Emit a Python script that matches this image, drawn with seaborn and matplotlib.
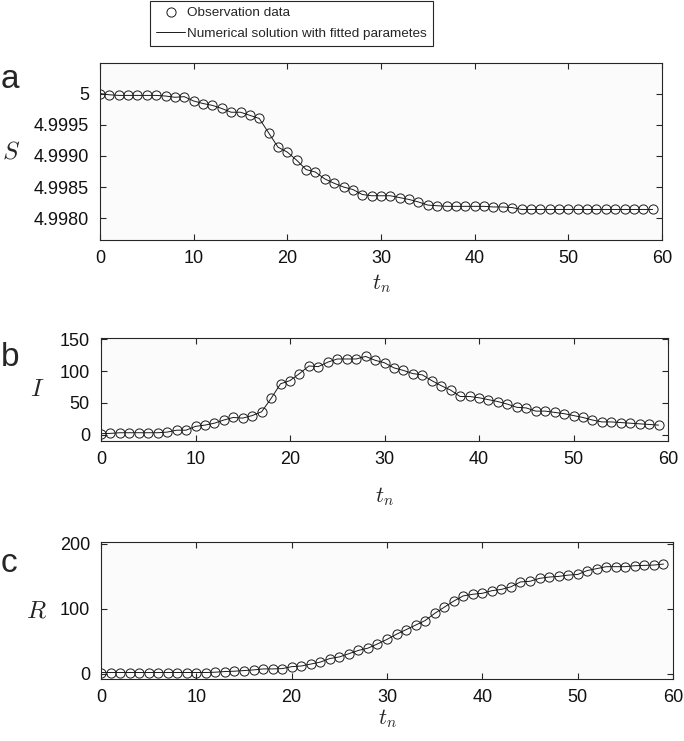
import numpy as np
import pandas as pd
import matplotlib
matplotlib.use("Agg")
import matplotlib.pyplot as plt
import seaborn as sns
from matplotlib.lines import Line2D
from matplotlib.ticker import FixedLocator, FixedFormatter

# ---------------- data ----------------
t = list(range(60))

S = [5.00000, 4.99998, 4.99997, 4.99997, 4.99997, 4.99997, 4.99997, 4.99996, 4.99994, 4.99995,
     4.99988, 4.99984, 4.99981, 4.99976, 4.99970, 4.99970, 4.99965, 4.99960, 4.99937, 4.99914,
     4.99906, 4.99893, 4.99878, 4.99874, 4.99863, 4.99856, 4.99850, 4.99846, 4.99838, 4.99836,
     4.99836, 4.99836, 4.99833, 4.99830, 4.99826, 4.99821, 4.99820, 4.99819, 4.99819, 4.99819,
     4.99819, 4.99819, 4.99818, 4.99818, 4.99817, 4.99814, 4.99814, 4.99814, 4.99814, 4.99814,
     4.99814, 4.99814, 4.99814, 4.99814, 4.99814, 4.99814, 4.99814, 4.99814, 4.99814, 4.99814]

I = [1.5, 2, 3, 3, 3, 3, 3, 4, 7, 7,
     13, 15, 18, 23, 27, 26, 30, 36, 57, 80,
     85, 96, 108, 107, 114, 119, 119, 119, 123, 117,
     113, 105, 101, 96, 94, 85, 77, 70, 60, 60,
     58, 55, 52, 48, 43, 42, 37, 37, 35, 33,
     30, 27, 23, 20, 20, 19, 18, 17, 16, 15]

R = [2, 2, 2, 2, 2, 2, 2, 2, 2, 2,
     2, 2, 2.5, 3.5, 4, 5, 6, 7.5, 7.5, 8,
     11, 12, 15, 18, 23.5, 26, 31, 36, 39.5, 46,
     53, 61, 68, 75, 82, 93, 102.5, 112, 120, 122.5,
     124, 128, 130, 134, 141.5, 142.5, 147, 149, 150, 152,
     153, 159, 162, 165, 165, 165, 166.5, 167, 167.5, 169]

x_ticks = [0, 10, 20, 30, 40, 50, 60]
S_ticks = [4.9980, 4.9985, 4.9990, 4.9995, 5.0]
S_ticklabels = ["4.9980", "4.9985", "4.9990", "4.9995", "5"]
I_ticks = [0, 50, 100, 150]
R_ticks = [0, 100, 200]

legend_labels = ["Observation data", "Numerical solution with fitted parametes"]

# ---------------- style ----------------
sns.set_theme(style="ticks")
plt.rcParams["font.family"] = ["Liberation Sans", "DejaVu Sans"]
plt.rcParams["mathtext.fontset"] = "cm"

W, H = 684, 741
fig = plt.figure(figsize=(W / 100, H / 100), dpi=100)


def box(l, r, top, bot):
    return [l / W, 1 - bot / H, (r - l) / W, (bot - top) / H]


SPINE = "#262626"
MS = 6.6
MEW = 0.7
LW = 0.7


def draw(rect, yvals, ylim, yticks, yticklabels, ylabel, ylab_x, xlab_y, letter, letter_y):
    ax = fig.add_axes(rect)
    df = pd.DataFrame({"t": t, "v": yvals})
    sns.lineplot(data=df, x="t", y="v", ax=ax, color="k", lw=LW)
    sns.lineplot(data=df, x="t", y="v", ax=ax, color="k", marker="o", linestyle="none",
                 markersize=MS, markerfacecolor="none", markeredgecolor="k",
                 markeredgewidth=MEW)
    ax.set_facecolor("#fbfbfb")
    ax.set_xlim(0, 60)
    ax.set_ylim(*ylim)
    ax.xaxis.set_major_locator(FixedLocator(x_ticks))
    ax.yaxis.set_major_locator(FixedLocator(yticks))
    ax.yaxis.set_major_formatter(FixedFormatter(yticklabels))
    for sp in ax.spines.values():
        sp.set_color(SPINE)
        sp.set_linewidth(0.8)
    ax.tick_params(direction="in", length=4, width=0.8, top=True, right=True,
                   labelsize=13, color=SPINE, labelcolor="#111111")
    ax.tick_params(axis="x", pad=7)
    ax.tick_params(axis="y", pad=8)
    ax.set_ylabel(ylabel, rotation=0, fontsize=18, ha="center", va="center")
    ax.yaxis.set_label_coords(ylab_x, 0.5)
    ax.set_xlabel("$t_n$", fontsize=16)
    ax.xaxis.set_label_coords(0.5, xlab_y)
    fig.text(1 / W, 1 - letter_y / H, letter, fontsize=24, ha="left", va="baseline")
    return ax


draw(box(100, 662, 63, 240), S, (4.99765, 5.00049), S_ticks, S_ticklabels,
     "$S$", (11 - 100) / 562, (240 - 272) / 177, "a", 88)
draw(box(101, 668, 338, 441), I, (-10, 152), I_ticks, [str(v) for v in I_ticks],
     "$I$", (37 - 101) / 567, (441 - 485) / 103, "b", 366)
draw(box(101, 673, 542, 679), R, (-8, 203), R_ticks, [str(v) for v in R_ticks],
     "$R$", (36 - 101) / 572, (679 - 707) / 137, "c", 572)

handles = [Line2D([], [], marker="o", linestyle="none", markerfacecolor="none",
                  markeredgecolor="k", markersize=MS, markeredgewidth=MEW),
           Line2D([], [], color="k", lw=LW)]
leg = fig.legend(handles, legend_labels, loc="upper center",
                 bbox_to_anchor=(291.5 / W, 1 - 1 / H),
                 prop={"family": "Liberation Sans", "size": 9.7}, frameon=True,
                 fancybox=False, edgecolor=SPINE, borderpad=0.45, handlelength=2.1,
                 handletextpad=0.15, labelspacing=0.6, borderaxespad=0)
leg.get_frame().set_linewidth(0.8)
leg.get_frame().set_facecolor("white")
leg.get_frame().set_alpha(1)

fig.savefig("out.png", dpi=100)
